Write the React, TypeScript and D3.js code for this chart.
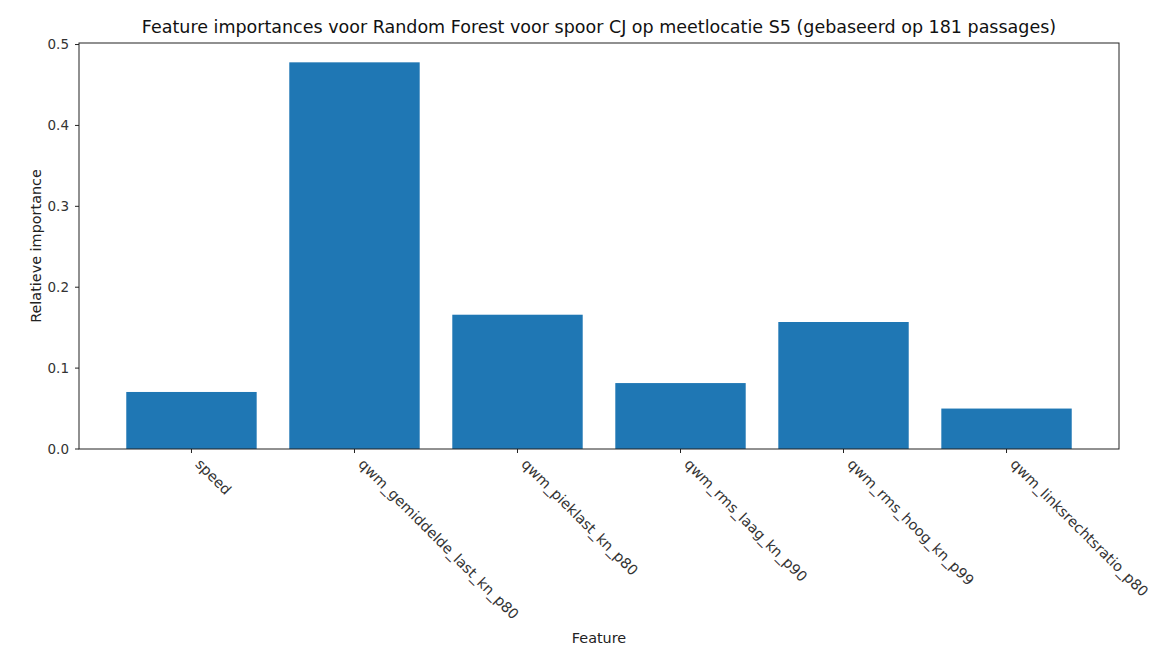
import React from "react";
import * as d3 from "d3";

const features: string[] = [
  "speed",
  "qwm_gemiddelde_last_kn_p80",
  "qwm_pieklast_kn_p80",
  "qwm_rms_laag_kn_p90",
  "qwm_rms_hoog_kn_p99",
  "qwm_linksrechtsratio_p80",
];
const importances: number[] = [0.0705, 0.478, 0.166, 0.0815, 0.157, 0.05];
const yTicks: number[] = [0, 0.1, 0.2, 0.3, 0.4, 0.5];

const title =
  "Feature importances voor Random Forest voor spoor CJ op meetlocatie S5 (gebaseerd op 181 passages)";
const xLabel = "Feature";
const yLabel = "Relatieve importance";

const W = 1156;
const H = 654;
const left = 79;
const right = 1119;
const top = 43;
const bottom = 449;
const FONT = "'DejaVu Sans', sans-serif";
const BAR = "#1f77b4";

export default function App() {
  const n = features.length;
  const barW = 0.8;
  const pad = (n - 1 + barW) * 0.05;
  const x = d3
    .scaleLinear()
    .domain([-barW / 2 - pad, n - 1 + barW / 2 + pad])
    .range([left, right]);
  const yMax = (d3.max(importances) as number) * 1.05;
  const y = d3.scaleLinear().domain([0, yMax]).range([bottom, top]);

  return (
    <svg
      width={W}
      height={H}
      style={{ position: "absolute", left: 0, top: 0, background: "#fff" }}
      fontFamily={FONT}
    >
      <rect x={0} y={0} width={W} height={H} fill="#fff" />
      {importances.map((v, i) => (
        <rect
          key={i}
          x={x(i - barW / 2)}
          y={y(v)}
          width={x(i + barW / 2) - x(i - barW / 2)}
          height={y(0) - y(v)}
          fill={BAR}
        />
      ))}
      <rect
        x={left}
        y={top}
        width={right - left}
        height={bottom - top}
        fill="none"
        stroke="#222"
        strokeWidth={1}
      />
      {yTicks.map((t) => (
        <g key={t} transform={`translate(0,${y(t)})`}>
          <line x1={left - 4} x2={left} stroke="#222" />
          <text
            x={left - 10}
            dy="0.35em"
            textAnchor="end"
            fontSize={13.5}
            fill="#333"
          >
            {t.toFixed(1)}
          </text>
        </g>
      ))}
      {features.map((f, i) => (
        <g key={f} transform={`translate(${x(i)},${bottom})`}>
          <line y1={0} y2={4} stroke="#222" />
          <text
            transform="translate(3,16) rotate(45)"
            textAnchor="start"
            fontSize={14.4}
            fill="#333"
          >
            {f}
          </text>
        </g>
      ))}
      <text
        x={(left + right) / 2}
        y={33}
        textAnchor="middle"
        fontSize={17.5}
        fill="#111"
      >
        {title}
      </text>
      <text
        x={(left + right) / 2}
        y={643}
        textAnchor="middle"
        fontSize={14.4}
        fill="#222"
      >
        {xLabel}
      </text>
      <text
        transform={`translate(41,${(top + bottom) / 2}) rotate(-90)`}
        textAnchor="middle"
        fontSize={14.4}
        fill="#222"
      >
        {yLabel}
      </text>
    </svg>
  );
}
